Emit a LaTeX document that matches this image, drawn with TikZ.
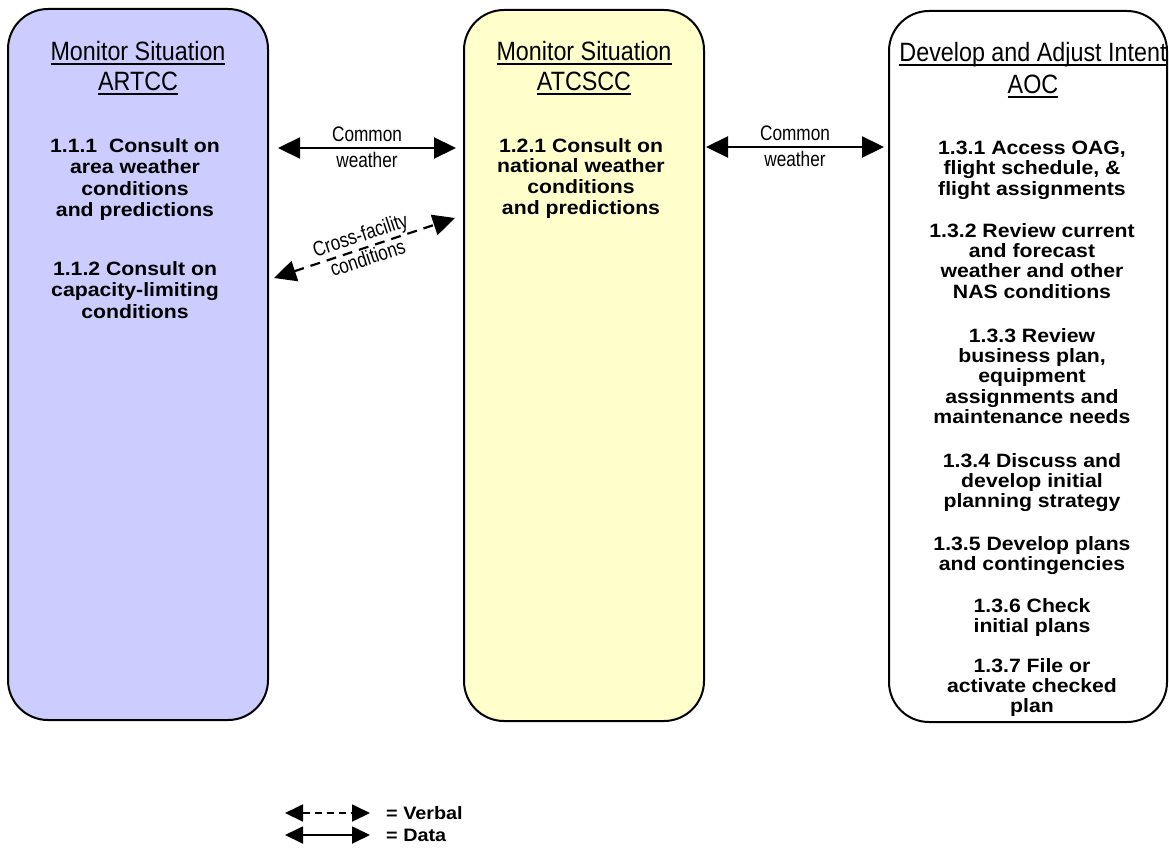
\documentclass[tikz,border=0pt]{standalone}
\usepackage{fontspec}
\setmainfont{Liberation Sans}
\newfontfamily\bodyfont[FakeStretch=1.1]{Liberation Sans}
\newfontfamily\titlefont[FakeStretch=0.88]{Liberation Sans}
\newfontfamily\narrowfont[FakeStretch=0.82]{Liberation Sans}
\usetikzlibrary{arrows.meta,calc}

% underline drawn at a fixed depth under the baseline
\newcommand\titleul[1]{\setbox0\hbox{#1}\rlap{\rule[-4.5pt]{\wd0}{2.6pt}}\box0}

\definecolor{lavfill}{HTML}{CCCCFF}
\definecolor{yelfill}{HTML}{FFFFCC}

\tikzset{
  lane/.style={draw=black, line width=2pt, rounded corners=40pt, inner sep=0pt},
  lanetitle/.style={anchor=base, inner sep=0pt, font=\titlefont\fontsize{26.5}{30}\selectfont},
  activity/.style={anchor=north, inner sep=0pt, align=center,
    font=\bodyfont\bfseries\fontsize{19.3}{#1}\selectfont},
  activity/.default=20.5,
  dataflow/.style={line width=2.2pt, {Triangle[length=22pt,width=21pt]}-{Triangle[length=22pt,width=21pt]}},
  verbalflow/.style={dataflow, dash pattern=on 10pt off 7pt},
  flowlabel/.style={inner sep=0pt, align=center, font=\narrowfont\fontsize{21}{#1}\selectfont},
  flowlabel/.default=26,
  keyflow/.style={line width=1.8pt, {Triangle[length=18pt,width=17pt]}-{Triangle[length=18pt,width=17pt]}},
  keytext/.style={anchor=west, inner sep=0pt, font=\bodyfont\bfseries\fontsize{18}{20}\selectfont}
}

\begin{document}
\begin{tikzpicture}[x=1pt,y=-1pt]
\useasboundingbox (0,0) rectangle (1169,848);

% three swim lanes
\node[lane, fill=lavfill, minimum width=260pt, minimum height=711pt] (L) at (138,364.5) {};
\node[lane, fill=yelfill, minimum width=240pt, minimum height=711pt] (M) at (584,365.5) {};
\node[lane, fill=white, minimum width=278pt, minimum height=711pt] (R) at (1028,366.5) {};

% lane titles
\node[lanetitle] (Lt1) at (138,61) {\titleul{Monitor Situation}};
\node[lanetitle] (Lt2) at (138,91) {\titleul{ARTCC}};
\node[lanetitle] (Mt1) at (584,61) {\titleul{Monitor Situation}};
\node[lanetitle] (Mt2) at (584,91) {\titleul{ATCSCC}};
\node[lanetitle] (Rt1) at (1033,62) {\titleul{Develop and Adjust Intent}};
\node[lanetitle] (Rt2) at (1033,94) {\titleul{AOC}};

% ARTCC activities
\node[activity=21.5] (a111) at (135,138) {1.1.1\ \ Consult on\\area weather\\conditions\\and predictions};
\node[activity=21.5] (a112) at (135,261) {1.1.2 Consult on\\capacity-limiting\\conditions};

% ATCSCC activities
\node[activity=20.7] (a121) at (581,138) {1.2.1 Consult on\\national weather\\conditions\\and predictions};

% AOC activities
\node[activity=20.3] (a131) at (1032,141) {1.3.1 Access OAG,\\flight schedule, \&\\flight assignments};
\node[activity=20.3] (a132) at (1032,223) {1.3.2 Review current\\and forecast\\weather and other\\NAS conditions};
\node[activity=20.3] (a133) at (1032,328) {1.3.3 Review\\business plan,\\equipment\\assignments and\\maintenance needs};
\node[activity=20.3] (a134) at (1032,453) {1.3.4 Discuss and\\develop initial\\planning strategy};
\node[activity=20.3] (a135) at (1032,536) {1.3.5 Develop plans\\and contingencies};
\node[activity=20.3] (a136) at (1032,598) {1.3.6 Check\\initial plans};
\node[activity=20.3] (a137) at (1032,658) {1.3.7 File or\\activate checked\\plan};

% heights of the exchanges between lanes
\coordinate (yLM) at (0,148);
\coordinate (yMR) at (0,147);
\coordinate (yXa) at (0,278);
\coordinate (yXb) at (0,218);

% ARTCC <-> ATCSCC
\draw[dataflow] ($(L.east |- yLM)+(9,0)$) -- ($(M.west |- yLM)+(-7,0)$)
  node[midway, flowlabel, yshift=0.5pt] (cw1) {Common\\weather};
\draw[verbalflow] ($(L.east |- yXa)+(5,0)$) -- ($(M.west |- yXb)+(-8,0)$)
  node[midway, sloped, flowlabel=24, yshift=2pt] (cf) {Cross-facility\\conditions};

% ATCSCC <-> AOC
\draw[dataflow] ($(M.east |- yMR)+(1,0)$) -- ($(R.west |- yMR)+(-4,0)$)
  node[midway, flowlabel, yshift=0.5pt] (cw2) {Common\\weather};

% key
\coordinate (kv1) at (285,813);
\coordinate (kv2) at (370,813);
\coordinate (kd1) at (285,835);
\coordinate (kd2) at (370,835);
\draw[keyflow, dash pattern=on 7pt off 5pt] (kv1) -- (kv2);
\draw[keyflow] (kd1) -- (kd2);
\node[keytext] (kvt) at (386,813) {= Verbal};
\node[keytext] (kdt) at (386,835) {= Data};
\end{tikzpicture}
\end{document}
